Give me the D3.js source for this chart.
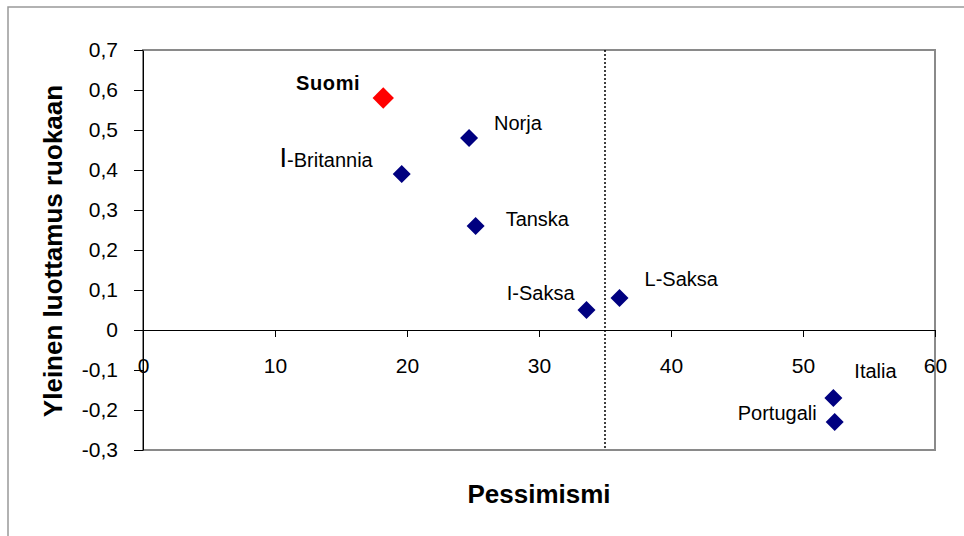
<!DOCTYPE html>
<html lang="fi">
<head>
    <meta charset="UTF-8">
    <title>Pessimismi ja luottamus ruokaan</title>
    <script src="https://d3js.org/d3.v7.js"></script>
    <style>
        body { margin: 0; background: #fff; }
        svg { display: block; font-family: Arial, "Liberation Sans", sans-serif; }
        .tick text { font-size: 21px; fill: #000; }
        .tick line, .domain { stroke: #000; }
        .point-label { font-size: 20px; fill: #000; }
        .axis-title { font-size: 26px; font-weight: bold; fill: #000; }
    </style>
</head>
<body>
    <svg width="964" height="536"></svg>
    <script>
        // data
        const countries = ["Suomi", "Norja", "I-Britannia", "Tanska", "I-Saksa", "L-Saksa", "Italia", "Portugali"];
        const pessimism = [18.2, 24.7, 19.6, 25.2, 33.6, 36.1, 52.3, 52.4];
        const trust = [0.58, 0.48, 0.39, 0.26, 0.05, 0.08, -0.17, -0.23];
        const xTicks = [0, 10, 20, 30, 40, 50, 60];
        const yTicks = [-0.3, -0.2, -0.1, 0, 0.1, 0.2, 0.3, 0.4, 0.5, 0.6, 0.7];
        const threshold = 35;

        // label placement relative to each marker: [dx, dy, anchor]
        const labelOffsets = {
            "Suomi": [-23, -8, "end"],
            "Norja": [25, -8, "start"],
            "I-Britannia": [-29, -7, "end"],
            "Tanska": [30, 0, "start"],
            "I-Saksa": [-12, -10, "end"],
            "L-Saksa": [25, -12, "start"],
            "Italia": [21, -20, "start"],
            "Portugali": [-18, -2, "end"]
        };

        const margins = { top: 50, left: 143, right: 29, bottom: 86 };
        const width = 964, height = 536;
        const svg = d3.select("svg");

        const x = d3.scaleLinear().domain([0, 60]).range([margins.left, width - margins.right]);
        const y = d3.scaleLinear().domain([-0.3, 0.7]).range([height - margins.bottom, margins.top]);
        // finnish style: comma decimals, plain hyphen minus, bare 0
        const fmt = v => v === 0 ? "0" : d3.format(".1f")(v).replace("\u2212", "-").replace(".", ",");

        // outer chart border
        svg.append("rect")
            .attr("x", 8).attr("y", 7)
            .attr("width", width).attr("height", height)
            .attr("fill", "none").attr("stroke", "#999").attr("stroke-width", 1.5);

        // plot area frame
        svg.append("rect")
            .attr("x", x(0)).attr("y", y(0.7))
            .attr("width", x(60) - x(0)).attr("height", y(-0.3) - y(0.7))
            .attr("fill", "none").attr("stroke", "#8a8a8a").attr("stroke-width", 2);

        // threshold line
        svg.append("line")
            .attr("x1", x(threshold)).attr("x2", x(threshold))
            .attr("y1", y(0.7)).attr("y2", y(-0.3))
            .attr("stroke", "#000").attr("stroke-width", 1.5)
            .attr("stroke-dasharray", "2,2");

        // y axis
        svg.append("g")
            .attr("transform", `translate(${x(0)},0)`)
            .call(d3.axisLeft(y).tickValues(yTicks).tickFormat(fmt).tickSize(9).tickSizeOuter(0).tickPadding(16))
            .call(g => g.selectAll("text").attr("font-family", null).attr("font-size", null));

        // x axis on zero line
        svg.append("g")
            .attr("transform", `translate(0,${y(0)})`)
            .call(d3.axisBottom(x).tickValues(xTicks).tickFormat(d3.format("d")).tickSize(7).tickSizeOuter(0).tickPadding(21))
            .call(g => g.selectAll("text").attr("font-family", null).attr("font-size", null));

        const points = countries.map((c, i) => ({ name: c, px: pessimism[i], ty: trust[i] }));

        // markers
        svg.append("g").selectAll("path")
            .data(points)
            .join("path")
            .attr("d", d => d3.symbol(d3.symbolSquare, d.name === "Suomi" ? 228 : 162)())
            .attr("transform", d => `translate(${x(d.px)},${y(d.ty)}) rotate(45)`)
            .attr("fill", d => d.name === "Suomi" ? "#ff0000" : "#000080");

        // labels
        const labels = svg.append("g").selectAll("text")
            .data(points)
            .join("text")
            .attr("class", "point-label")
            .attr("x", d => x(d.px) + labelOffsets[d.name][0])
            .attr("y", d => y(d.ty) + labelOffsets[d.name][1])
            .attr("text-anchor", d => labelOffsets[d.name][2]);

        labels.each(function (d) {
            const t = d3.select(this);
            if (d.name === "Suomi") {
                t.attr("font-weight", "bold").attr("font-size", "21px").attr("letter-spacing", "0.6px").text(d.name);
            } else if (d.name === "I-Britannia") {
                t.append("tspan").attr("font-size", "27px").text("I");
                t.append("tspan").text("-Britannia");
            } else {
                t.text(d.name);
            }
        });

        // axis titles
        svg.append("text")
            .attr("class", "axis-title")
            .attr("text-anchor", "middle")
            .attr("x", (x(0) + x(60)) / 2)
            .attr("y", 503)
            .text("Pessimismi");

        svg.append("text")
            .attr("class", "axis-title")
            .attr("text-anchor", "middle")
            .attr("transform", `translate(62,251) rotate(-90)`)
            .text("Yleinen luottamus ruokaan");
    </script>
</body>
</html>
